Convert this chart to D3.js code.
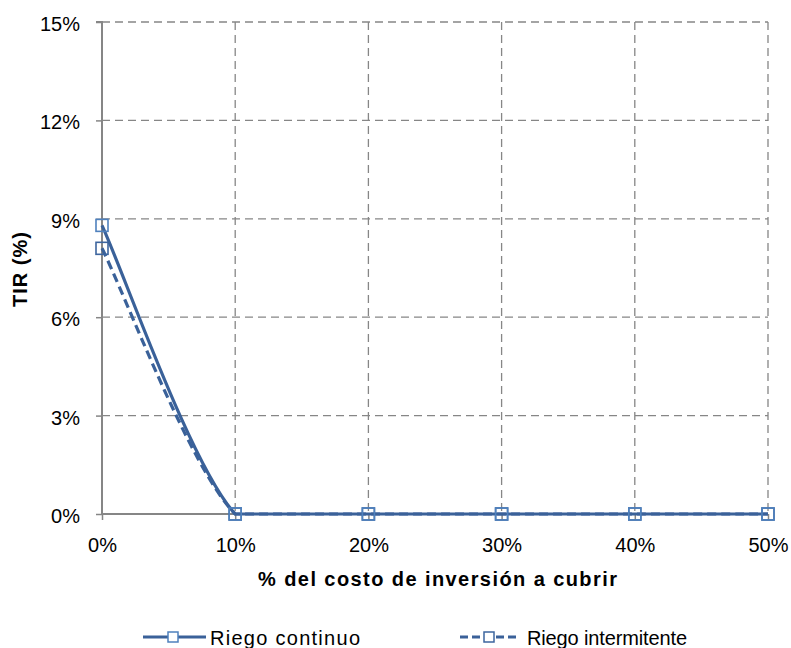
<!DOCTYPE html>
<html>
<head>
<meta charset="utf-8">
<script src="https://cdn.jsdelivr.net/npm/d3@7"></script>
<style>
  body { margin: 0; background: #fff; }
  text { font-family: "Liberation Sans", Arial, sans-serif; fill: #000; }
</style>
</head>
<body>
<div id="chart"></div>
<script>
// data
const coverage = [0, 10, 20, 30, 40, 50];        // % del costo de inversión a cubrir
const continuo = [8.8, 0, 0, 0, 0, 0];            // TIR (%) Riego continuo
const intermitente = [8.1, 0, 0, 0, 0, 0];        // TIR (%) Riego intermitente
const yTicks = [0, 3, 6, 9, 12, 15];
const xTicks = [0, 10, 20, 30, 40, 50];

const W = 791, H = 648;
const plot = { left: 102, right: 768, top: 22, bottom: 514 };
const lineColor = '#3A6199';
const gridColor = '#868686';

const svg = d3.select('#chart').append('svg')
  .attr('width', W)
  .attr('height', H);

const x = d3.scaleLinear().domain([0, 50]).range([plot.left, plot.right]);
const y = d3.scaleLinear().domain([0, 15]).range([plot.bottom, plot.top]);

// smoothed line like the spreadsheet one, with control points kept inside each segment's y range
function smoothCurve(context) {
  return {
    lineStart() { this.pts = []; },
    point(px, py) { this.pts.push([px, py]); },
    lineEnd() {
      const p = this.pts;
      if (!p.length) return;
      context.moveTo(p[0][0], p[0][1]);
      for (let i = 0; i < p.length - 1; i++) {
        const prev = p[i - 1] || p[i];
        const next = p[i + 2] || p[i + 1];
        const lo = Math.min(p[i][1], p[i + 1][1]);
        const hi = Math.max(p[i][1], p[i + 1][1]);
        const cl = v => Math.max(lo, Math.min(hi, v));
        const c1x = p[i][0] + (p[i + 1][0] - prev[0]) / 6;
        const c1y = cl(p[i][1] + (p[i + 1][1] - prev[1]) / 6);
        const c2x = p[i + 1][0] - (next[0] - p[i][0]) / 6;
        const c2y = cl(p[i + 1][1] - (next[1] - p[i][1]) / 6);
        context.bezierCurveTo(c1x, c1y, c2x, c2y, p[i + 1][0], p[i + 1][1]);
      }
    },
    areaStart() {},
    areaEnd() {}
  };
}

// gridlines
svg.append('g')
  .selectAll('line')
  .data(yTicks.filter(d => d > 0))
  .enter().append('line')
  .attr('x1', plot.left).attr('x2', plot.right)
  .attr('y1', d => y(d)).attr('y2', d => y(d))
  .attr('stroke', gridColor).attr('stroke-width', 1.3)
  .attr('stroke-dasharray', '8,5');

svg.append('g')
  .selectAll('line')
  .data(xTicks.filter(d => d > 0))
  .enter().append('line')
  .attr('x1', d => x(d)).attr('x2', d => x(d))
  .attr('y1', plot.top).attr('y2', plot.bottom)
  .attr('stroke', gridColor).attr('stroke-width', 1.3)
  .attr('stroke-dasharray', '8,5');

// axes
const yAxis = d3.axisLeft(y).tickValues(yTicks).tickSize(6).tickPadding(16)
  .tickFormat(d => d + '%');
const xAxis = d3.axisBottom(x).tickValues(xTicks).tickSize(6).tickPadding(18)
  .tickFormat(d => d + '%');

const gy = svg.append('g')
  .attr('transform', `translate(${plot.left},0)`)
  .call(yAxis);
const gx = svg.append('g')
  .attr('transform', `translate(0,${plot.bottom})`)
  .call(xAxis);

[gy, gx].forEach(g => {
  g.select('.domain').attr('stroke', gridColor).attr('stroke-width', 2);
  g.selectAll('.tick line').attr('stroke', gridColor).attr('stroke-width', 1.5);
  g.selectAll('.tick text')
    .style('font-family', '"Liberation Sans", Arial, sans-serif')
    .style('font-size', '20px').attr('fill', '#111');
});
gy.selectAll('.tick text').attr('dy', '0.42em');
gy.select('.domain').attr('d', `M-6,${plot.top}H0V${plot.bottom}`);
gx.select('.domain').attr('d', `M${plot.left},0H${plot.right}`);

// axis titles
svg.append('text')
  .attr('transform', `translate(27,${(plot.top + plot.bottom) / 2 + 1.5}) rotate(-90)`)
  .attr('text-anchor', 'middle')
  .attr('textLength', 75).attr('lengthAdjust', 'spacing')
  .style('font-size', '20px').style('font-weight', 'bold')
  .text('TIR (%)');

svg.append('text')
  .attr('x', 437.5).attr('y', 586)
  .attr('text-anchor', 'middle')
  .attr('textLength', 359).attr('lengthAdjust', 'spacing')
  .style('font-size', '20px').style('font-weight', 'bold')
  .text('% del costo de inversión a cubrir');

// series
const series = [
  { name: 'Riego continuo', values: continuo, dash: null, marker: '#4F81BD' },
  { name: 'Riego intermitente', values: intermitente, dash: '9,5', marker: '#3D659E' }
];

const line = d3.line()
  .x(d => x(d[0]))
  .y(d => y(d[1]))
  .curve(smoothCurve);

series.slice().reverse().forEach(s => {
  const pts = coverage.map((c, i) => [c, s.values[i]]);
  svg.append('path')
    .datum(pts)
    .attr('d', line)
    .attr('fill', 'none')
    .attr('stroke', lineColor)
    .attr('stroke-width', 3.2)
    .attr('stroke-dasharray', s.dash);
  svg.append('g')
    .selectAll('rect')
    .data(pts)
    .enter().append('rect')
    .attr('x', d => x(d[0]) - 6)
    .attr('y', d => y(d[1]) - 6)
    .attr('width', 12).attr('height', 12)
    .attr('fill', 'none')
    .attr('stroke', s.marker)
    .attr('stroke-width', 1.6);
});

// legend
const legend = [
  { x1: 143, x2: 206, mx: 173, tx: 210, tl: 150 },
  { x1: 460, x2: 520, mx: 489, tx: 527, tl: 160 }
];
series.forEach((s, i) => {
  const L = legend[i];
  const g = svg.append('g').attr('transform', 'translate(0,637)');
  g.append('line')
    .attr('x1', L.x1).attr('x2', L.x2).attr('y1', 0).attr('y2', 0)
    .attr('stroke', lineColor).attr('stroke-width', 3)
    .attr('stroke-dasharray', s.dash ? '8,4' : null);
  g.append('rect')
    .attr('x', L.mx - 5).attr('y', -5).attr('width', 10).attr('height', 10)
    .attr('fill', '#fff').attr('stroke', s.marker).attr('stroke-width', 1.5);
  g.append('text')
    .attr('x', L.tx).attr('y', 8)
    .attr('textLength', L.tl).attr('lengthAdjust', 'spacing')
    .style('font-size', '20px')
    .text(s.name);
});
</script>
</body>
</html>
